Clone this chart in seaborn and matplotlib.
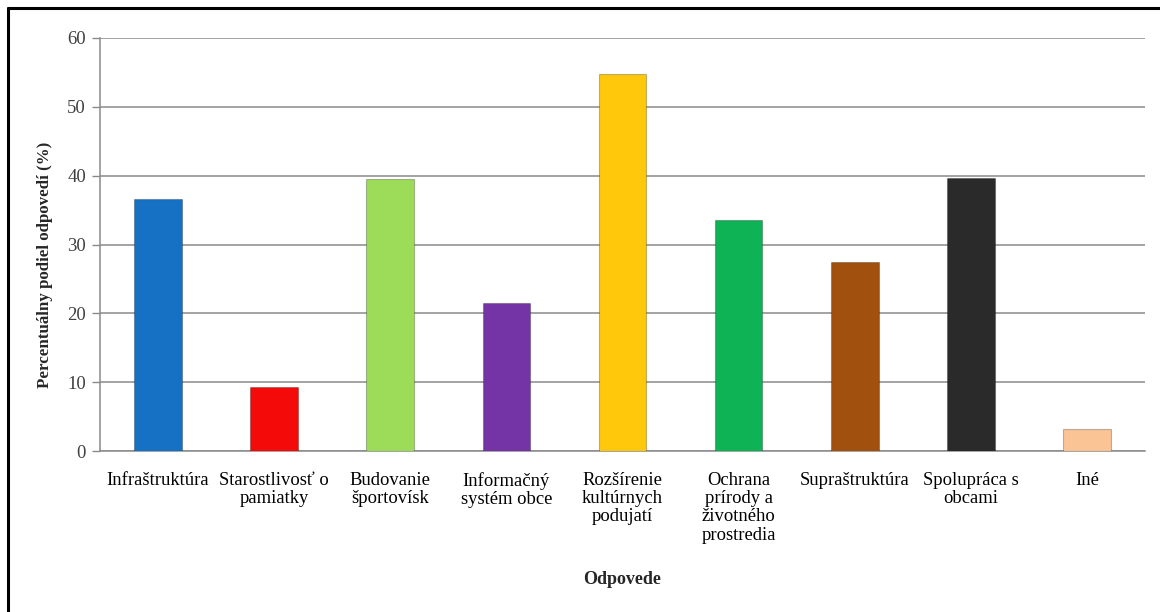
import numpy as np
import pandas as pd
import matplotlib
matplotlib.use("Agg")
import matplotlib.pyplot as plt
from matplotlib.lines import Line2D
import seaborn as sns

# data
categories = ["Infraštruktúra", "Starostlivosť o\npamiatky", "Budovanie\nšportovísk",
              "Informačný\nsystém obce", "Rozšírenie\nkultúrnych\npodujatí",
              "Ochrana\nprírody a\nživotného\nprostredia", "Supraštruktúra",
              "Spolupráca s\nobcami", "Iné"]
values = [36.6, 9.3, 39.5, 21.5, 54.7, 33.5, 27.4, 39.6, 3.2]
bar_colors = ["#1670c4", "#f50a0a", "#9ddc58", "#7434a6", "#ffc80a",
              "#0db355", "#a2500e", "#2a2a2a", "#fac494"]
y_ticks = [0, 10, 20, 30, 40, 50, 60]

sns.set_theme(style="white")
plt.rcParams['font.family'] = ['Liberation Serif', 'DejaVu Serif']

df = pd.DataFrame({"odpoved": categories, "podiel": values})

fig = plt.figure(figsize=(11.6, 6.12), dpi=100)
ax = fig.add_axes([100/1160, 1 - 451/612, 1045/1160, 413/612])

sns.barplot(data=df, x="odpoved", y="podiel", hue="odpoved", palette=bar_colors,
            width=0.41, legend=False, ax=ax, saturation=1, zorder=3)
for bar in ax.patches:
    bar.set_edgecolor((0, 0, 0, 0.25))
    bar.set_linewidth(0.8)

ax.set_ylim(0, 60)
ax.set_yticks(y_ticks)
ax.set_yticklabels([str(t) for t in y_ticks], fontsize=13.5, color="#404040")
ax.yaxis.grid(True, color="#8a8a8a", linewidth=1.1, zorder=0)
ax.set_axisbelow(True)
ax.tick_params(axis="y", which="both", left=True, length=6, width=1, color="#8a8a8a", pad=4)
ax.tick_params(axis="x", bottom=False, pad=9)
plt.setp(ax.get_xticklabels(), fontsize=13.4, color="black", linespacing=1.1, va="top")

for side in ["top", "right"]:
    ax.spines[side].set_visible(False)
ax.spines["left"].set_color("#8a8a8a")
ax.spines["bottom"].set_color("#8a8a8a")
ax.spines["left"].set_linewidth(1.1)
ax.spines["bottom"].set_linewidth(1.1)

ax.set_xlabel("")
ax.set_ylabel("")
fig.text(45/1160, 1 - 265/612, "Percentuálny podiel odpovedí (%)", rotation=90,
         ha="center", va="center", fontsize=12.2, fontweight="bold")
fig.text(622/1160, 1 - 579/612, "Odpovede", ha="center", va="center",
         fontsize=13, fontweight="bold")

# outer frame (left and top edges visible in the screenshot)
fig.add_artist(Line2D([8/1160, 8/1160], [0, 1 - 8/612], transform=fig.transFigure,
                      color="black", linewidth=2.2))
fig.add_artist(Line2D([8/1160, 1], [1 - 8/612, 1 - 8/612], transform=fig.transFigure,
                      color="black", linewidth=2.2))

plt.savefig("out.png", dpi=100)
